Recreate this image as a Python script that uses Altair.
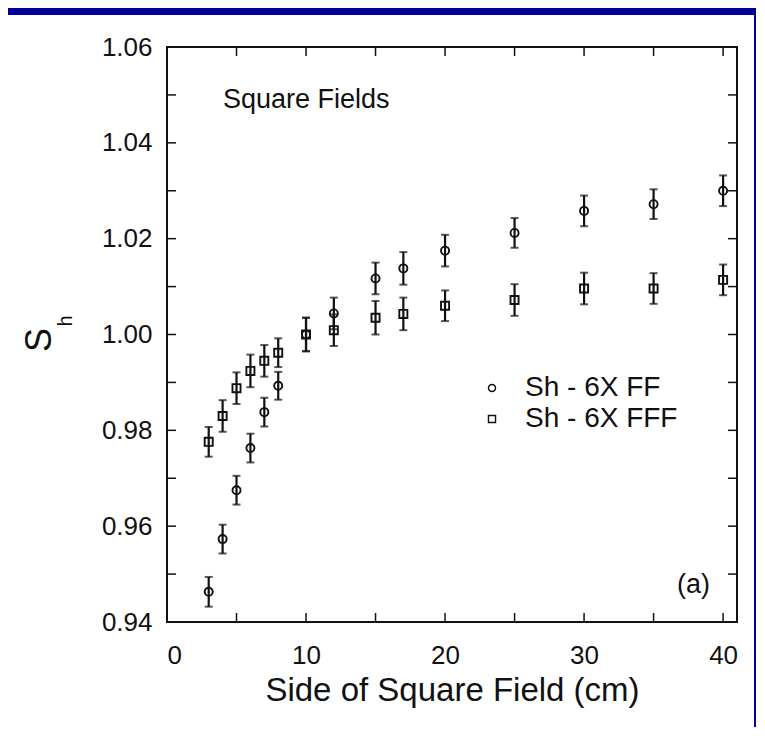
import altair as alt
import pandas as pd

# ---- data ----
sizes = [3, 4, 5, 6, 7, 8, 10, 12, 15, 17, 20, 25, 30, 35, 40]
ff = [0.9463, 0.9573, 0.9675, 0.9763, 0.9838, 0.9893, 1.0000, 1.0044,
      1.0117, 1.0138, 1.0175, 1.0212, 1.0258, 1.0272, 1.0300]
ff_err = [0.0031, 0.0030, 0.0030, 0.0030, 0.0030, 0.0029, 0.0035, 0.0033,
          0.0033, 0.0034, 0.0033, 0.0031, 0.0032, 0.0031, 0.0032]
fff = [0.9776, 0.9830, 0.9888, 0.9924, 0.9945, 0.9962, 1.0000, 1.0009,
       1.0035, 1.0043, 1.0060, 1.0072, 1.0096, 1.0096, 1.0114]
fff_err = [0.0031, 0.0033, 0.0033, 0.0034, 0.0033, 0.0030, 0.0035, 0.0033,
           0.0035, 0.0034, 0.0032, 0.0033, 0.0033, 0.0032, 0.0032]
series_names = ["Sh - 6X FF", "Sh - 6X FFF"]

x_label_values = [0, 10, 20, 30, 40]
y_label_values = [0.94, 0.96, 0.98, 1.00, 1.02, 1.04, 1.06]
x_tick_values = [5, 10, 15, 20, 25, 30, 35, 40]
y_tick_values = [0.95, 0.96, 0.97, 0.98, 0.99, 1.00, 1.01, 1.02, 1.03, 1.04, 1.05]

# ---- layout / style ----
W, H = 570, 575
FONT = "Liberation Sans"
BLUE = "#000099"
INK = "#111111"
TL = 9  # inward tick length

rows = []
for name, vals, errs in [(series_names[0], ff, ff_err), (series_names[1], fff, fff_err)]:
    for s, v, e in zip(sizes, vals, errs):
        rows.append({"series": name, "x": s, "y": v, "lo": v - e, "hi": v + e})
df = pd.DataFrame(rows)
one = pd.DataFrame({"a": [0]})
xt = pd.DataFrame({"x": x_tick_values})
yt = pd.DataFrame({"y": y_tick_values})

xscale = alt.Scale(domain=[0, 41], nice=False, zero=False)
yscale = alt.Scale(domain=[0.94, 1.06], nice=False, zero=False)

xaxis = alt.Axis(values=x_label_values, ticks=False, tickSize=0, domain=False, grid=False,
                 labelFontSize=26, labelPadding=20, labelColor=INK, labelFont=FONT,
                 title="Side of Square Field (cm)", titleFontSize=33, titleFont=FONT,
                 titleFontWeight="normal", titleColor=INK, titlePadding=6)
yaxis = alt.Axis(values=y_label_values, format=".2f", ticks=False, tickSize=0, domain=False,
                 grid=False, labelFontSize=26, labelPadding=15, labelColor=INK, labelFont=FONT,
                 title=None)

X = alt.X("x:Q", scale=xscale, axis=xaxis)
Y = alt.Y("y:Q", scale=yscale, axis=yaxis)

# blue frame strips of the slide (top and right)
strip_top = alt.Chart(one).mark_rect(color=BLUE).encode(
    x=alt.value(-159), x2=alt.value(589), y=alt.value(-39), y2=alt.value(-32))
strip_right = alt.Chart(one).mark_rect(color=BLUE).encode(
    x=alt.value(587), x2=alt.value(589), y=alt.value(-39), y2=alt.value(680))

# plot frame
frame = alt.Chart(one).mark_rect(filled=False, fill=None, stroke=INK, strokeWidth=2).encode(
    x=alt.value(0), x2=alt.value(W), y=alt.value(0), y2=alt.value(H))

bars = alt.Chart(df).mark_rule(color=INK, strokeWidth=2.2).encode(
    x=X, y=alt.Y("lo:Q", scale=yscale, axis=yaxis), y2="hi:Q")
caps_lo = alt.Chart(df).mark_tick(orient="horizontal", color=INK, size=8, thickness=2).encode(
    x=X, y=alt.Y("lo:Q", scale=yscale, axis=yaxis))
caps_hi = alt.Chart(df).mark_tick(orient="horizontal", color=INK, size=8, thickness=2).encode(
    x=X, y=alt.Y("hi:Q", scale=yscale, axis=yaxis))

points = alt.Chart(df).mark_point(filled=False, color=INK, strokeWidth=1.9, size=65,
                                  opacity=1).encode(
    x=X, y=Y,
    shape=alt.Shape("series:N",
                    scale=alt.Scale(domain=series_names, range=["circle", "square"]),
                    legend=alt.Legend(orient="none", legendX=311, legendY=327, title=None,
                                      padding=0, labelFontSize=28, labelFont=FONT,
                                      labelColor=INK, symbolSize=50, symbolStrokeWidth=1.4,
                                      symbolStrokeColor=INK, symbolOpacity=1,
                                      rowPadding=3, labelOffset=19)))

tick_style = dict(color=INK, strokeWidth=1.5)
t_bottom = alt.Chart(xt).mark_rule(**tick_style).encode(x=X, y=alt.value(H), y2=alt.value(H - TL))
t_top = alt.Chart(xt).mark_rule(**tick_style).encode(x=X, y=alt.value(0), y2=alt.value(TL))
t_left = alt.Chart(yt).mark_rule(**tick_style).encode(y=Y, x=alt.value(0), x2=alt.value(TL))
t_right = alt.Chart(yt).mark_rule(**tick_style).encode(y=Y, x=alt.value(W), x2=alt.value(W - TL))

txt_style = dict(font=FONT, color=INK)
t_sq = alt.Chart(one).mark_text(align="left", baseline="middle", fontSize=27, **txt_style).encode(
    x=alt.value(56), y=alt.value(53), text=alt.value("Square Fields"))
t_a = alt.Chart(one).mark_text(align="right", baseline="middle", fontSize=27, **txt_style).encode(
    x=alt.value(543), y=alt.value(538), text=alt.value("(a)"))
t_S = alt.Chart(one).mark_text(align="center", baseline="middle", fontSize=36, angle=270,
                               **txt_style).encode(
    x=alt.value(-127), y=alt.value(293), text=alt.value("S"))
t_h = alt.Chart(one).mark_text(align="center", baseline="middle", fontSize=20, angle=270,
                               **txt_style).encode(
    x=alt.value(-101), y=alt.value(274), text=alt.value("h"))

chart = alt.layer(
    strip_top, strip_right, frame, bars, caps_lo, caps_hi, points,
    t_bottom, t_top, t_left, t_right, t_sq, t_a, t_S, t_h
).properties(
    width=W, height=H, padding=0, background="white"
).configure(
    font=FONT
).configure_view(
    stroke=INK, strokeWidth=2
)

chart.save("out.html", embed_options={"renderer": "svg", "actions": False})
